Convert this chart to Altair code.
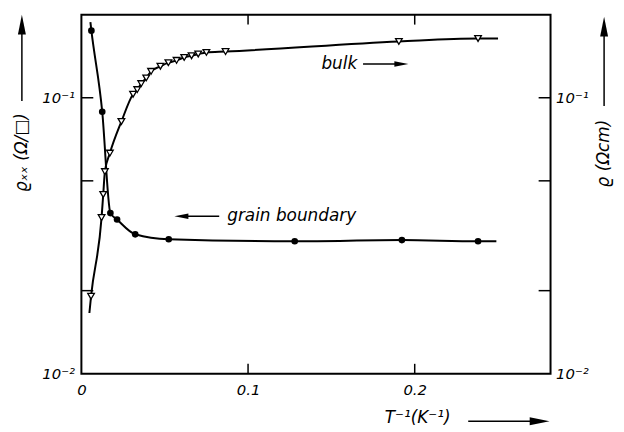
import altair as alt
import pandas as pd

# ---- data ----
gb_x = [0.006, 0.0125, 0.0174, 0.0214, 0.0323, 0.0524, 0.128, 0.1923, 0.238]
gb_y = [0.175, 0.089, 0.0382, 0.0362, 0.032, 0.0307, 0.0302, 0.0305, 0.0302]

bulk_x = [0.0058, 0.0121, 0.0131, 0.0141, 0.0171, 0.024, 0.031, 0.0335, 0.0359,
          0.0389, 0.0418, 0.0474, 0.0522, 0.0571, 0.0617, 0.0661, 0.0701, 0.075,
          0.0865, 0.1905, 0.238]
bulk_y = [0.0191, 0.0368, 0.0446, 0.054, 0.063, 0.082, 0.103, 0.107, 0.1125,
          0.118, 0.1246, 0.130, 0.134, 0.1366, 0.140, 0.142, 0.144, 0.146,
          0.147, 0.160, 0.164]

# ends of the fitted curves (beyond the first/last markers)
gb_curve_start = (0.0054, 0.188)
gb_curve_end = (0.249, 0.0302)
bulk_curve_start = (0.0048, 0.0166)
bulk_curve_end = (0.250, 0.164)

x_ticks = [0.1, 0.2]
y_ticks = [0.02, 0.05, 0.1]
x_label_values = [0, 0.1, 0.2]
y_label_values = [0.01, 0.1]

W, H = 473, 362
FONT = "DejaVu Sans"

gb_pts = pd.DataFrame({"x": gb_x, "y": gb_y})
bulk_pts = pd.DataFrame({"x": bulk_x, "y": bulk_y})
gb_curve = pd.DataFrame({
    "x": [gb_curve_start[0]] + gb_x + [gb_curve_end[0]],
    "y": [gb_curve_start[1]] + gb_y + [gb_curve_end[1]],
})
bulk_curve = pd.DataFrame({
    "x": [bulk_curve_start[0]] + bulk_x + [bulk_curve_end[0]],
    "y": [bulk_curve_start[1]] + bulk_y + [bulk_curve_end[1]],
})

xs = alt.Scale(domain=[0, 0.2815], nice=False, zero=False)
ys = alt.Scale(type="log", domain=[0.01, 0.2], nice=False)

x_axis = alt.Axis(values=x_label_values, title=None, ticks=False, domain=False, grid=False,
                  labelExpr="datum.value == 0 ? '0' : format(datum.value, '.1f')",
                  labelFont=FONT, labelFontSize=15, labelFontStyle="italic",
                  labelColor="black", labelPadding=9, labelFlush=False)
y_label_expr = "datum.value < 0.03 ? '10⁻²' : '10⁻¹'"
y_axis = alt.Axis(values=y_label_values, title=None, ticks=False, domain=False, grid=False,
                  labelExpr=y_label_expr, labelFont=FONT, labelFontSize=15,
                  labelFontStyle="italic", labelColor="black", labelPadding=7)
y_axis_r = alt.Axis(values=y_label_values, title=None, ticks=False, domain=False, grid=False,
                    orient="right", labelExpr=y_label_expr, labelFont=FONT, labelFontSize=15,
                    labelFontStyle="italic", labelColor="black", labelPadding=5)

X = alt.X("x:Q", scale=xs, axis=x_axis)
Y = alt.Y("y:Q", scale=ys, axis=y_axis)

gb_line = alt.Chart(gb_curve).mark_line(color="black", strokeWidth=2, interpolate="monotone").encode(x=X, y=Y)
bulk_line = alt.Chart(bulk_curve).mark_line(color="black", strokeWidth=2, interpolate="monotone").encode(x=X, y=Y)
gb_mark = alt.Chart(gb_pts).mark_point(shape="circle", filled=True, color="black", size=45, opacity=1).encode(x=X, y=Y)
bulk_mark = alt.Chart(bulk_pts).mark_point(shape="triangle-down", filled=True, fill="white",
                                           stroke="black", strokeWidth=1.3, size=45, opacity=1).encode(x=X, y=Y)

# tick marks (inward)
xt = pd.DataFrame({"x": x_ticks})
yt = pd.DataFrame({"y": y_ticks})
tick_b = alt.Chart(xt).mark_rule(color="black", strokeWidth=1.5).encode(x=X, y=alt.value(H), y2=alt.value(H - 10))
tick_t = alt.Chart(xt).mark_rule(color="black", strokeWidth=1.5).encode(x=X, y=alt.value(0), y2=alt.value(10))
tick_l = alt.Chart(yt).mark_rule(color="black", strokeWidth=1.5).encode(y=Y, x=alt.value(0), x2=alt.value(12))

# curve annotations in data coordinates
ann_text = pd.DataFrame({"x": [0.144, 0.0875], "y": [0.1325, 0.0372], "t": ["bulk", "grain boundary"]})
ann_txt = alt.Chart(ann_text).mark_text(align="left", baseline="middle", font=FONT, fontSize=17,
                                        fontStyle="italic", color="black").encode(x=X, y=Y, text="t:N")
ann_arrow = pd.DataFrame({"x": [0.169, 0.0600], "x2": [0.1920, 0.0827], "y": [0.1325, 0.0372]})
ann_rule = alt.Chart(ann_arrow).mark_rule(color="black", strokeWidth=1.5).encode(x=X, x2="x2:Q", y=Y)
head_r = pd.DataFrame({"x": [0.1920], "y": [0.1325]})
head_l = pd.DataFrame({"x": [0.0600], "y": [0.0372]})
ann_head_r = alt.Chart(head_r).mark_point(shape="M-1,-0.4L1,0L-1,0.4Z", filled=True, color="black",
                                          size=200, opacity=1).encode(x=X, y=Y)
ann_head_l = alt.Chart(head_l).mark_point(shape="M1,-0.4L-1,0L1,0.4Z", filled=True, color="black",
                                          size=200, opacity=1).encode(x=X, y=Y)

# axis titles with arrows (pixel positions relative to the plot area)
one = pd.DataFrame({"a": [0]})
title_style = dict(font=FONT, fontSize=17, fontStyle="italic", color="black", baseline="middle")
left_title = alt.Chart(one).mark_text(angle=270, align="center", **title_style).encode(
    x=alt.value(-60), y=alt.value(139), text=alt.value("ϱₓₓ (Ω/□)"))
left_rule = alt.Chart(one).mark_rule(color="black", strokeWidth=1.5).encode(
    x=alt.value(-60), y=alt.value(87), y2=alt.value(10))
left_head = alt.Chart(one).mark_point(shape="M-0.4,1L0,-1L0.4,1Z", filled=True, color="black", size=400,
                                      opacity=1).encode(x=alt.value(-60), y=alt.value(10))
right_title = alt.Chart(one).mark_text(angle=270, align="center", **title_style).encode(
    x=alt.value(527), y=alt.value(140), text=alt.value("ϱ (Ωcm)"))
right_rule = alt.Chart(one).mark_rule(color="black", strokeWidth=1.5).encode(
    x=alt.value(527), y=alt.value(92), y2=alt.value(12))
right_head = alt.Chart(one).mark_point(shape="M-0.4,1L0,-1L0.4,1Z", filled=True, color="black", size=400,
                                       opacity=1).encode(x=alt.value(527), y=alt.value(12))
bottom_title = alt.Chart(one).mark_text(align="center", **title_style).encode(
    x=alt.value(339), y=alt.value(407), text=alt.value("T⁻¹(K⁻¹)"))
bottom_rule = alt.Chart(one).mark_rule(color="black", strokeWidth=1.5).encode(
    x=alt.value(390), x2=alt.value(462), y=alt.value(410))
bottom_head = alt.Chart(one).mark_point(shape="M-1,-0.4L1,0L-1,0.4Z", filled=True, color="black", size=400,
                                        opacity=1).encode(x=alt.value(462), y=alt.value(410))

inner = alt.layer(gb_line, bulk_line, gb_mark, bulk_mark, tick_b, tick_t, tick_l,
                  ann_txt, ann_rule, ann_head_r, ann_head_l,
                  left_title, left_rule, left_head, right_title, right_rule, right_head,
                  bottom_title, bottom_rule, bottom_head)

tick_r = alt.Chart(yt).mark_rule(color="black", strokeWidth=1.5).encode(
    y=alt.Y("y:Q", scale=ys, axis=y_axis_r), x=alt.value(W), x2=alt.value(W - 12))

chart = alt.layer(inner, tick_r).resolve_scale(y="independent").properties(
    width=W, height=H,
    padding={"left": 74, "top": 5, "right": 66, "bottom": 56},
    autosize=alt.AutoSizeParams(type="none"),
    background="white",
).configure_view(stroke="black", strokeWidth=2)

chart.save("out.html", embed_options={"renderer": "svg", "actions": False})
